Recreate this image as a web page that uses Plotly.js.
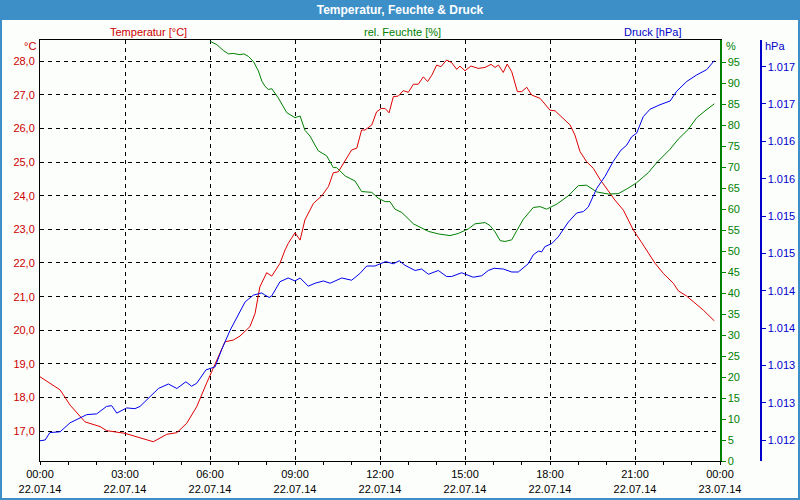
<!DOCTYPE html>
<html>
<head>
<meta charset="utf-8">
<script src="https://cdn.plot.ly/plotly-3.0.1.min.js"></script>
<style>html,body{margin:0;padding:0;background:#fff;}#chart{width:800px;height:500px;}</style>
</head>
<body>
<div id="chart"></div>
<script>
// Time in hours after 22.07.14 00:00
const tempHours = [0,0.35,0.71,1.06,1.41,1.59,2.12,2.35,3.0,3.41,4.0,4.47,4.83,5.18,5.53,5.88,6.24,6.53,6.82,7.06,7.41,7.59,7.76,8.0,8.18,8.47,8.65,8.76,9.0,9.18,9.35,9.65,9.94,10.18,10.35,10.53,11.0,11.18,11.35,11.47,11.71,11.88,12.04,12.18,12.32,12.47,12.65,12.82,13.0,13.18,13.35,13.53,13.68,13.83,14.0,14.15,14.35,14.53,14.71,14.82,15.0,15.21,15.47,15.71,15.92,16.06,16.18,16.35,16.49,16.65,16.85,17.0,17.18,17.35,17.65,18.0,18.18,18.53,18.71,18.88,19.06,19.29,19.53,19.76,20.06,20.29,20.59,20.94,21.24,21.5,21.71,22.0,22.35,22.53,22.82,23.06,23.41,23.8];
const tempValues = [18.62,18.43,18.23,17.78,17.43,17.28,17.14,17.02,16.94,16.84,16.69,16.91,16.96,17.24,17.73,18.43,19.12,19.66,19.71,19.83,20.11,20.50,21.29,21.71,21.61,21.99,22.39,22.58,22.90,22.68,23.28,23.77,23.99,24.27,24.68,24.71,25.36,25.41,25.95,25.95,26.10,26.49,26.59,26.59,26.46,26.94,26.96,27.12,27.07,27.31,27.31,27.53,27.39,27.58,27.88,27.83,28.03,27.95,27.75,27.85,27.71,27.85,27.78,27.81,27.90,27.81,27.88,27.66,27.91,27.68,27.09,27.09,27.22,26.99,26.89,26.54,26.52,26.25,26.10,25.80,25.31,25.01,24.81,24.49,24.12,23.87,23.57,22.98,22.60,22.27,21.99,21.69,21.40,21.17,21.02,20.85,20.60,20.28];

const humHours = [6.0,6.24,6.47,6.65,6.82,7.06,7.2,7.35,7.53,7.71,7.83,7.94,8.06,8.18,8.41,8.71,9.0,9.18,9.35,9.53,9.82,10.12,10.35,10.47,10.77,11.12,11.35,11.71,11.94,12.18,12.35,12.53,12.77,13.18,13.71,14.06,14.47,14.76,15.12,15.35,15.71,15.88,16.06,16.24,16.41,16.65,16.83,17.06,17.41,17.65,17.88,18.24,18.65,19.0,19.29,19.65,20.06,20.41,20.71,21.06,21.47,21.77,22.24,22.53,22.88,23.18,23.47,23.8];
const humValues = [100,99.2,97.8,97.0,97.1,96.8,97.0,96.4,95.2,92.9,90.5,89.3,88.5,88.7,86.5,83.0,81.8,82.2,78.8,77.4,73.9,72.7,69.9,69.9,67.9,66.7,64.2,64.0,62.6,61.8,61.8,60.0,59.2,56.5,54.7,54.1,53.7,54.2,55.3,56.5,56.8,56.1,54.6,52.5,52.3,52.7,54.9,57.6,60.4,60.6,60.0,61.2,63.2,65.6,65.7,64.1,63.6,63.7,64.8,66.3,68.7,71.1,74.3,76.7,79.0,81.8,83.4,85.1];

const presHours = [0,0.18,0.35,0.71,1.06,1.41,1.65,2.0,2.35,2.53,2.71,3.06,3.35,3.53,3.88,4.18,4.53,4.83,5.15,5.35,5.53,5.86,6.18,6.41,6.71,7.0,7.24,7.53,7.83,7.94,8.09,8.18,8.47,8.76,9.0,9.18,9.47,9.71,10.0,10.24,10.65,11.0,11.29,11.53,11.82,12.2,12.47,12.68,12.88,13.24,13.47,13.71,14.06,14.35,14.53,14.88,15.29,15.59,15.82,16.03,16.35,16.65,16.88,17.23,17.41,17.59,17.71,17.82,18.06,18.29,18.65,18.94,19.18,19.35,19.65,19.94,20.23,20.5,20.71,20.88,21.06,21.29,21.53,21.88,22.24,22.47,22.82,23.18,23.53,23.8];
const presValues = [1011.99,1012.0,1012.10,1012.11,1012.23,1012.29,1012.34,1012.35,1012.45,1012.46,1012.36,1012.43,1012.42,1012.45,1012.58,1012.69,1012.75,1012.69,1012.78,1012.72,1012.76,1012.94,1012.98,1013.21,1013.47,1013.67,1013.85,1013.94,1013.97,1013.94,1013.91,1013.93,1014.12,1014.17,1014.13,1014.17,1014.06,1014.10,1014.13,1014.10,1014.17,1014.14,1014.23,1014.33,1014.33,1014.39,1014.36,1014.40,1014.34,1014.27,1014.29,1014.22,1014.27,1014.19,1014.19,1014.24,1014.18,1014.20,1014.27,1014.30,1014.29,1014.25,1014.25,1014.36,1014.48,1014.53,1014.52,1014.59,1014.63,1014.72,1014.92,1015.04,1015.06,1015.12,1015.37,1015.53,1015.73,1015.88,1015.95,1016.06,1016.11,1016.33,1016.43,1016.49,1016.54,1016.67,1016.80,1016.89,1016.96,1017.08];

const tempTicks = [17,18,19,20,21,22,23,24,25,26,27,28];
const humTicks = [0,5,10,15,20,25,30,35,40,45,50,55,60,65,70,75,80,85,90,95];
const presTicks = [1012,1012.5,1013,1013.5,1014,1014.5,1015,1015.5,1016,1016.5,1017];
const presTickLabels = ["1.012","1.013","1.013","1.014","1.014","1.015","1.015","1.016","1.016","1.017","1.017"];

const chartTitle = "Temperatur, Feuchte & Druck";
const seriesNames = ["Temperatur [°C]", "rel. Feuchte [%]", "Druck [hPa]"];
const unitLabels = ["°C", "%", "hPa"];

const RED = "#cc0000", GREEN = "#008000", BLUE = "#0000cc", BAR = "#3c8fc7";
const base = Date.UTC(2014, 6, 22, 0, 0, 0);
const toTime = hs => hs.map(h => base + h * 3600000);

const font = {family: "Liberation Sans, Arial, sans-serif", size: 11, color: "#000"};

const traces = [
  {x: toTime(tempHours), y: tempValues, yaxis: "y", type: "scatter", mode: "lines",
   line: {color: "#dd0000", width: 1}, name: seriesNames[0]},
  {x: toTime(humHours), y: humValues, yaxis: "y2", type: "scatter", mode: "lines",
   line: {color: "#008000", width: 1}, name: seriesNames[1]},
  {x: toTime(presHours), y: presValues, yaxis: "y3", type: "scatter", mode: "lines",
   line: {color: "#0000ee", width: 1}, name: seriesNames[2]}
];

const px = v => (v - 40) / 720;      // pixel x -> paper
const py = v => (461 - v) / 421;     // pixel y -> paper

const layout = {
  width: 800, height: 500,
  margin: {l: 40, r: 40, t: 40, b: 39, pad: 0},
  paper_bgcolor: "#fcfefc", plot_bgcolor: "#fcfefc",
  font: font,
  separators: ",.",
  showlegend: false,
  hovermode: false,
  title: {text: chartTitle, xref: "container", yref: "container", x: 0.5, y: 0.98,
          xanchor: "center", yanchor: "middle",
          font: {family: "Liberation Sans, Arial, sans-serif", size: 12, color: "#ffffff", weight: "bold"}},
  xaxis: {
    type: "date", domain: [0, 680 / 720],
    range: [base, base + 24 * 3600000],
    tick0: base, dtick: 3 * 3600000, tickformat: "%H:%M<br>%d.%m.%y",
    ticks: "outside", ticklen: 3, tickcolor: "#000",
    minor: {dtick: 3600000, ticks: "outside", ticklen: 3, tickcolor: "#000", showgrid: false},
    showline: true, linecolor: "#000", linewidth: 1, mirror: true,
    showgrid: true, gridcolor: "#000", gridwidth: 1, griddash: "4px,4px",
    zeroline: false, tickfont: {size: 11, color: "#000"}, fixedrange: true
  },
  yaxis: {
    range: [16.118, 28.624], tickmode: "array", tickvals: tempTicks, tickformat: ".1f",
    ticks: "", showline: true, linecolor: "#000", linewidth: 1,
    showgrid: true, gridcolor: "#000", gridwidth: 1, griddash: "4px,4px",
    zeroline: false, tickfont: {size: 11, color: RED}, ticklabelstandoff: 2
  },
  yaxis2: {
    overlaying: "y", side: "right", anchor: "x",
    range: [0, 100.3], tickmode: "array", tickvals: humTicks,
    ticks: "outside", ticklen: 4, tickcolor: GREEN,
    showline: true, linecolor: GREEN, linewidth: 1.5,
    showgrid: false, zeroline: false, tickfont: {size: 11, color: GREEN}
  },
  yaxis3: {
    overlaying: "y", side: "right", anchor: "free", position: 1.0,
    range: [1011.719, 1017.357], tickmode: "array", tickvals: presTicks, ticktext: presTickLabels,
    ticks: "outside", ticklen: 4, tickcolor: BLUE,
    showline: true, linecolor: BLUE, linewidth: 1.5,
    showgrid: false, zeroline: false, tickfont: {size: 11, color: BLUE}
  },
  shapes: [
    {type: "rect", xref: "paper", yref: "paper", x0: px(0), x1: px(800), y0: py(20), y1: py(0),
     fillcolor: BAR, line: {width: 0}, layer: "below"},
    {type: "rect", xref: "paper", yref: "paper", x0: px(1), x1: px(799), y0: py(499), y1: py(1),
     fillcolor: "rgba(0,0,0,0)", line: {color: BAR, width: 2}, layer: "above"}
  ],
  annotations: [
    {text: seriesNames[0], xref: "paper", yref: "paper", x: px(148), y: py(32), showarrow: false,
     xanchor: "center", yanchor: "middle", font: {size: 11, color: RED}},
    {text: seriesNames[1], xref: "paper", yref: "paper", x: px(402), y: py(32), showarrow: false,
     xanchor: "center", yanchor: "middle", font: {size: 11, color: GREEN}},
    {text: seriesNames[2], xref: "paper", yref: "paper", x: px(652), y: py(32), showarrow: false,
     xanchor: "center", yanchor: "middle", font: {size: 11, color: BLUE}},
    {text: unitLabels[0], xref: "paper", yref: "paper", x: px(38), y: py(46), showarrow: false,
     xanchor: "right", yanchor: "middle", font: {size: 11, color: RED}},
    {text: unitLabels[1], xref: "paper", yref: "paper", x: px(724), y: py(46), showarrow: false,
     xanchor: "left", yanchor: "middle", font: {size: 11, color: GREEN}},
    {text: unitLabels[2], xref: "paper", yref: "paper", x: px(763), y: py(46), showarrow: false,
     xanchor: "left", yanchor: "middle", font: {size: 11, color: BLUE}}
  ]
};

Plotly.newPlot("chart", traces, layout, {displayModeBar: false, staticPlot: true});
</script>
</body>
</html>
